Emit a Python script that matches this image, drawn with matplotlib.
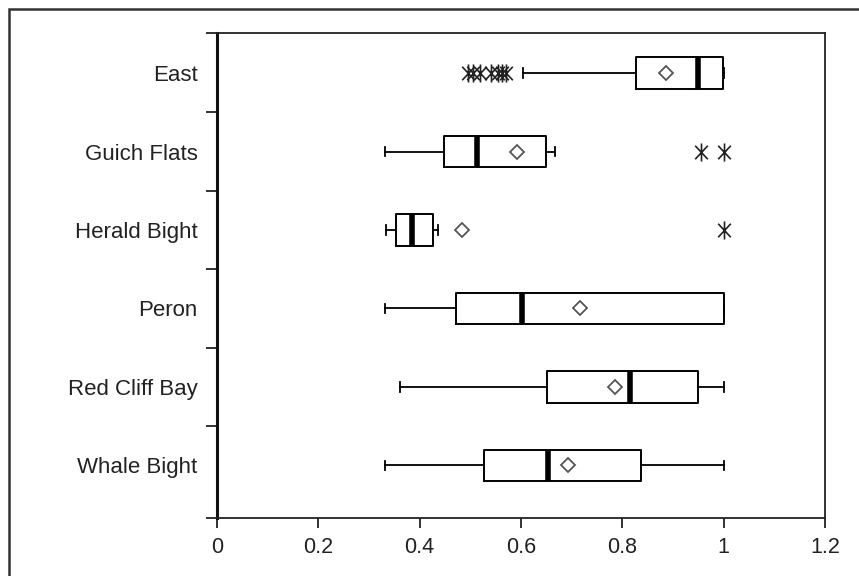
import matplotlib
matplotlib.use("Agg")
import matplotlib.pyplot as plt
from matplotlib.patches import Rectangle
from matplotlib.path import Path

plt.rcParams['font.family'] = ['Liberation Sans', 'DejaVu Sans']

categories = ["Whale Bight", "Red Cliff Bay", "Peron", "Herald Bight", "Guich Flats", "East"]
whislo = [0.332, 0.362, 0.332, 0.333, 0.332, 0.604]
q1     = [0.527, 0.651, 0.472, 0.353, 0.448, 0.827]
median = [0.653, 0.816, 0.601, 0.385, 0.514, 0.949]
q3     = [0.837, 0.950, 1.000, 0.426, 0.649, 0.998]
whishi = [1.000, 1.000, 1.000, 0.436, 0.667, 1.000]
means  = [0.692, 0.785, 0.716, 0.483, 0.593, 0.886]
fliers = [[], [], [], [1.0], [0.956, 1.0],
          [0.495, 0.505, 0.52, 0.54, 0.555, 0.562, 0.57]]
xticks = [0, 0.2, 0.4, 0.6, 0.8, 1, 1.2]
xticklabels = ["0", "0.2", "0.4", "0.6", "0.8", "1", "1.2"]

W, H = 859, 576
fig = plt.figure(figsize=(W / 100, H / 100), dpi=100)
fig.patch.set_facecolor("white")

# outer frame (left and top edges visible)
fig.add_artist(Rectangle((9 / W, -0.2), 1.3, 1.2 - 9 / H,
                         transform=fig.transFigure, fill=False,
                         edgecolor="#333333", linewidth=1.8))

ax = fig.add_axes([217 / W, 1 - 518 / H, (825 - 217) / W, (518 - 33) / H])

# asterisk marker: vertical bar plus an X
star = Path([(0, -1), (0, 1), (-0.7, -0.75), (0.7, 0.75), (-0.7, 0.75), (0.7, -0.75)],
            [Path.MOVETO, Path.LINETO, Path.MOVETO, Path.LINETO, Path.MOVETO, Path.LINETO])

stats = []
for i, c in enumerate(categories):
    stats.append(dict(label=c, whislo=whislo[i], q1=q1[i], med=median[i],
                      q3=q3[i], whishi=whishi[i], mean=means[i],
                      fliers=fliers[i]))

positions = list(range(len(categories)))
ax.bxp(stats, positions=positions, vert=False, widths=0.4,
       showmeans=True, showfliers=True, capwidths=0.12,
       boxprops=dict(color="black", linewidth=1.4),
       whiskerprops=dict(color="black", linewidth=1.3),
       capprops=dict(color="black", linewidth=1.3),
       medianprops=dict(color="black", linewidth=4, solid_capstyle="butt"),
       meanprops=dict(marker="D", markerfacecolor="white",
                      markeredgecolor="#555555", markersize=7.5,
                      markeredgewidth=1.3),
       flierprops=dict(marker=star, markeredgecolor="#222222",
                       markerfacecolor="none", markersize=13,
                       markeredgewidth=1.2, linestyle="none"))

ax.set_xlim(0, 1.2)
ax.set_ylim(-0.67, 5.51)
ax.set_xticks(xticks)
ax.set_xticklabels(xticklabels)

ax.set_yticks([-0.67, 0.5, 1.5, 2.5, 3.5, 4.5, 5.51])
ax.set_yticklabels([])
ax.set_yticks(positions, minor=True)
ax.set_yticklabels(categories, minor=True)
ax.tick_params(axis="y", which="minor", length=0, pad=14, labelsize=16,
               labelcolor="#222222")
ax.tick_params(axis="y", which="major", length=8, width=1.3, direction="out",
               color="#222222")
ax.tick_params(axis="x", length=7, width=1.3, direction="out", pad=7,
               labelsize=15.5, labelcolor="#222222", color="#222222")

for s in ["top", "right", "bottom"]:
    ax.spines[s].set_linewidth(1.3)
    ax.spines[s].set_color("#222222")
ax.spines["left"].set_linewidth(2.2)
ax.spines["left"].set_color("#111111")

fig.savefig("out.png", dpi=100, facecolor="white")
